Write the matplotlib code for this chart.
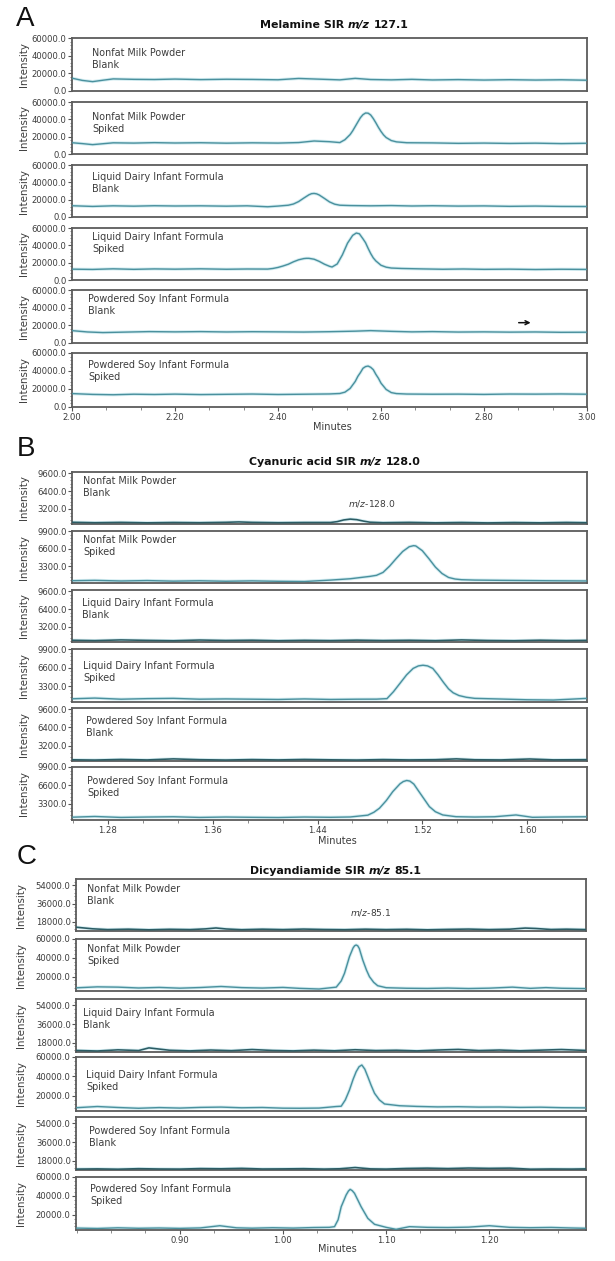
import matplotlib
matplotlib.use("Agg")
import matplotlib.pyplot as plt
from matplotlib.ticker import FixedLocator, MultipleLocator, AutoMinorLocator, FormatStrFormatter

plt.rcParams['font.family'] = ['DejaVu Sans']

# ------------------------------------------------------------------ data
SAMPLES = ["Nonfat Milk Powder", "Nonfat Milk Powder",
           "Liquid Dairy Infant Formula", "Liquid Dairy Infant Formula",
           "Powdered Soy Infant Formula", "Powdered Soy Infant Formula"]
CONDITIONS = ["Blank", "Spiked", "Blank", "Spiked", "Blank", "Spiked"]

A_TITLE = ("Melamine SIR", "m/z", "127.1")
B_TITLE = ("Cyanuric acid SIR", "m/z", "128.0")
C_TITLE = ("Dicyandiamide SIR", "m/z", "85.1")
B_NOTE = "$m/z$-128.0"
C_NOTE = "$m/z$-85.1"
X_LABEL = "Minutes"
Y_LABEL = "Intensity"

A_x_ticks = [2.00, 2.20, 2.40, 2.60, 2.80, 3.00]
B_x_ticks = [1.28, 1.36, 1.44, 1.52, 1.60]
C_x_ticks = [0.90, 1.00, 1.10, 1.20]
A_y_ticks = [0, 20000, 40000, 60000]
B_y_ticks_blank = [3200, 6400, 9600]
B_y_ticks_spiked = [3300, 6600, 9900]
C_y_ticks_blank = [18000, 36000, 54000]
C_y_ticks_spiked = [20000, 40000, 60000]

# Panel A – melamine m/z 127.1
A1_t = [2.00, 2.02, 2.04, 2.06, 2.08, 2.12, 2.16, 2.20, 2.25, 2.30, 2.35, 2.40, 2.44, 2.48, 2.52, 2.55, 2.58, 2.62, 2.66, 2.70, 2.75, 2.80, 2.85, 2.90, 2.95, 3.00]
A1_y = [14500, 12000, 10600, 12200, 13700, 13200, 13000, 13500, 12900, 13300, 13100, 12700, 14200, 13400, 12600, 14300, 13000, 12600, 13200, 12500, 12900, 12400, 12800, 12400, 12700, 12200]
A2_t = [2.00, 2.02, 2.04, 2.08, 2.12, 2.16, 2.20, 2.25, 2.30, 2.35, 2.40, 2.44, 2.47, 2.50, 2.52, 2.53, 2.54, 2.545, 2.55, 2.555, 2.56, 2.565, 2.57, 2.575, 2.58, 2.585, 2.59, 2.595, 2.60, 2.605, 2.61, 2.62, 2.63, 2.65, 2.70, 2.75, 2.80, 2.85, 2.90, 2.95, 3.00]
A2_y = [13000, 12000, 10800, 12900, 12600, 13100, 12700, 13000, 12500, 12900, 12600, 13200, 15000, 14200, 13200, 16500, 22400, 26700, 31800, 36900, 41900, 45400, 47300, 47100, 45000, 40900, 36000, 30700, 26000, 22000, 19000, 15500, 14000, 13000, 12800, 12300, 12600, 12200, 12500, 12000, 12400]
A3_t = [2.00, 2.04, 2.08, 2.12, 2.16, 2.20, 2.25, 2.30, 2.34, 2.38, 2.40, 2.42, 2.43, 2.44, 2.45, 2.46, 2.465, 2.47, 2.475, 2.48, 2.49, 2.50, 2.51, 2.52, 2.54, 2.58, 2.62, 2.66, 2.70, 2.75, 2.80, 2.85, 2.90, 2.95, 3.00]
A3_y = [13000, 12200, 12900, 12500, 13000, 12700, 12900, 12500, 12900, 11800, 12600, 13600, 15000, 17800, 21800, 25600, 26900, 27200, 26700, 25400, 21500, 17400, 14800, 13600, 13200, 12900, 13200, 12700, 13000, 12600, 12800, 12300, 12600, 12200, 12100]
A4_t = [2.00, 2.04, 2.08, 2.12, 2.16, 2.20, 2.25, 2.30, 2.34, 2.38, 2.39, 2.40, 2.41, 2.42, 2.43, 2.44, 2.45, 2.455, 2.46, 2.47, 2.48, 2.49, 2.50, 2.505, 2.515, 2.525, 2.535, 2.545, 2.552, 2.558, 2.565, 2.57, 2.575, 2.58, 2.585, 2.59, 2.60, 2.61, 2.62, 2.64, 2.68, 2.72, 2.76, 2.80, 2.85, 2.90, 2.95, 3.00]
A4_y = [12500, 12200, 12900, 12300, 12800, 12500, 12900, 12400, 12700, 12600, 13300, 14500, 16200, 18200, 21000, 23300, 24700, 25000, 25000, 24000, 21500, 18300, 15800, 15000, 18500, 29000, 42500, 51500, 54200, 53300, 47500, 43000, 36500, 30500, 25500, 22000, 17000, 14800, 13800, 13300, 12800, 12400, 12700, 12300, 12500, 12100, 12400, 12200]
A5_t = [2.00, 2.03, 2.06, 2.10, 2.15, 2.20, 2.25, 2.30, 2.35, 2.40, 2.45, 2.50, 2.55, 2.58, 2.62, 2.66, 2.70, 2.75, 2.80, 2.85, 2.90, 2.95, 3.00]
A5_y = [14000, 12500, 11800, 12300, 12900, 12600, 12900, 12500, 12800, 12600, 12400, 12800, 13400, 14000, 13200, 12600, 12900, 12400, 12600, 12300, 12500, 12100, 12200]
A6_t = [2.00, 2.04, 2.08, 2.12, 2.16, 2.20, 2.25, 2.30, 2.35, 2.40, 2.45, 2.50, 2.52, 2.53, 2.54, 2.55, 2.555, 2.56, 2.565, 2.57, 2.575, 2.58, 2.585, 2.59, 2.595, 2.60, 2.61, 2.62, 2.63, 2.65, 2.70, 2.75, 2.80, 2.85, 2.90, 2.95, 3.00]
A6_y = [14900, 14000, 13600, 14200, 13900, 14300, 13800, 14100, 14400, 13900, 14200, 14500, 15000, 16500, 20600, 28400, 34000, 38200, 43000, 44900, 45500, 44100, 41500, 36300, 31900, 26500, 19500, 16000, 14900, 14400, 14200, 14300, 14000, 14400, 14300, 14500, 14200]
A_arrow_t = [2.862, 2.896]
A_arrow_y = 23000

# Panel B – cyanuric acid m/z 128.0
B1_t = [1.25, 1.27, 1.29, 1.31, 1.33, 1.35, 1.37, 1.38, 1.39, 1.41, 1.43, 1.45, 1.455, 1.46, 1.465, 1.47, 1.475, 1.48, 1.49, 1.51, 1.53, 1.55, 1.57, 1.59, 1.61, 1.63, 1.646]
B1_y = [850, 760, 820, 740, 800, 760, 830, 900, 820, 760, 800, 800, 950, 1250, 1400, 1300, 1050, 850, 760, 820, 740, 800, 730, 790, 740, 810, 760]
B2_t = [1.25, 1.27, 1.29, 1.31, 1.33, 1.35, 1.37, 1.39, 1.41, 1.43, 1.45, 1.465, 1.48, 1.485, 1.49, 1.495, 1.50, 1.505, 1.51, 1.5133, 1.515, 1.52, 1.525, 1.53, 1.535, 1.54, 1.545, 1.55, 1.56, 1.58, 1.60, 1.62, 1.646]
B2_y = [520, 600, 480, 560, 450, 520, 430, 500, 420, 380, 650, 900, 1350, 1550, 2100, 3280, 4700, 6050, 6950, 7150, 7100, 6200, 4700, 3100, 1900, 1150, 850, 720, 650, 600, 560, 520, 480]
B3_t = [1.25, 1.27, 1.29, 1.31, 1.33, 1.35, 1.37, 1.39, 1.41, 1.43, 1.45, 1.47, 1.49, 1.51, 1.53, 1.55, 1.57, 1.59, 1.61, 1.63, 1.646]
B3_y = [850, 780, 900, 820, 760, 880, 800, 850, 760, 830, 780, 860, 790, 840, 770, 900, 800, 760, 850, 780, 820]
B4_t = [1.25, 1.27, 1.29, 1.31, 1.33, 1.35, 1.37, 1.39, 1.41, 1.43, 1.45, 1.47, 1.485, 1.493, 1.498, 1.503, 1.508, 1.513, 1.517, 1.5205, 1.524, 1.528, 1.532, 1.536, 1.540, 1.5435, 1.548, 1.5535, 1.56, 1.58, 1.60, 1.62, 1.646]
B4_y = [1000, 1150, 950, 1050, 1100, 950, 1000, 950, 900, 1000, 900, 950, 960, 1050, 2300, 3800, 5300, 6450, 6900, 7020, 6900, 6450, 5300, 4000, 2800, 2100, 1600, 1300, 1100, 980, 850, 800, 1100]
B5_t = [1.25, 1.27, 1.29, 1.31, 1.33, 1.35, 1.37, 1.39, 1.41, 1.43, 1.45, 1.47, 1.49, 1.51, 1.53, 1.546, 1.56, 1.58, 1.602, 1.62, 1.646]
B5_y = [750, 700, 800, 720, 900, 760, 700, 780, 720, 800, 740, 700, 780, 720, 760, 900, 750, 720, 880, 730, 760]
B6_t = [1.25, 1.27, 1.29, 1.31, 1.33, 1.35, 1.37, 1.39, 1.41, 1.43, 1.45, 1.465, 1.4784, 1.483, 1.4873, 1.4925, 1.4975, 1.503, 1.5055, 1.5081, 1.5105, 1.5135, 1.5165, 1.521, 1.5254, 1.530, 1.5356, 1.5457, 1.56, 1.575, 1.5915, 1.604, 1.62, 1.646]
B6_y = [900, 1050, 880, 950, 1000, 880, 950, 900, 860, 950, 900, 960, 1285, 1800, 2530, 3900, 5510, 6900, 7300, 7490, 7380, 6850, 5820, 4300, 2810, 1900, 1320, 1010, 950, 1000, 1320, 900, 950, 1000]

# Panel C – dicyandiamide m/z 85.1
C1_t = [0.80, 0.815, 0.83, 0.85, 0.87, 0.89, 0.91, 0.925, 0.935, 0.945, 0.96, 0.98, 1.00, 1.02, 1.04, 1.06, 1.08, 1.10, 1.12, 1.14, 1.16, 1.18, 1.20, 1.22, 1.235, 1.245, 1.26, 1.275, 1.294]
C1_y = [12500, 11000, 10200, 10600, 10000, 10500, 10200, 10900, 11800, 10800, 10100, 10600, 10200, 10700, 10300, 10100, 10600, 10200, 10500, 10000, 10400, 10700, 10200, 10600, 11700, 11300, 10300, 10600, 10200]
C2_t = [0.80, 0.82, 0.84, 0.86, 0.88, 0.90, 0.92, 0.94, 0.96, 0.98, 1.00, 1.016, 1.035, 1.0517, 1.0565, 1.0597, 1.0645, 1.0680, 1.0695, 1.0710, 1.0725, 1.0740, 1.0774, 1.0810, 1.0839, 1.0880, 1.0919, 1.1001, 1.12, 1.14, 1.16, 1.18, 1.20, 1.2226, 1.24, 1.255, 1.27, 1.294]
C2_y = [8200, 9200, 8900, 8000, 8600, 7800, 8500, 9600, 8400, 7900, 8600, 7600, 6900, 8900, 15500, 23600, 41200, 50500, 52800, 53650, 52800, 50000, 37700, 27000, 20000, 14000, 10400, 8300, 7700, 7500, 7900, 7400, 7800, 8900, 7600, 8400, 7700, 7300]
C3_t = [0.80, 0.82, 0.84, 0.86, 0.87, 0.89, 0.91, 0.93, 0.95, 0.97, 0.99, 1.01, 1.03, 1.05, 1.07, 1.09, 1.11, 1.13, 1.15, 1.17, 1.19, 1.21, 1.23, 1.25, 1.27, 1.294]
C3_y = [10300, 9800, 10900, 10200, 12800, 10500, 9900, 10700, 10100, 11200, 10300, 9900, 10600, 10000, 11000, 10200, 10500, 9900, 10700, 11300, 10200, 10700, 10000, 10600, 11200, 10300]
C4_t = [0.80, 0.82, 0.84, 0.86, 0.88, 0.90, 0.92, 0.94, 0.96, 0.98, 1.00, 1.016, 1.035, 1.0517, 1.0565, 1.0605, 1.0645, 1.068, 1.0710, 1.0738, 1.0765, 1.0794, 1.0823, 1.0855, 1.0888, 1.0935, 1.0985, 1.113, 1.13, 1.15, 1.17, 1.19, 1.21, 1.23, 1.25, 1.27, 1.294]
C4_y = [8000, 9200, 8200, 7400, 8100, 7600, 8300, 8600, 7900, 8200, 7500, 7400, 7600, 9200, 9500, 16000, 26100, 37000, 44900, 50000, 51800, 47500, 39800, 31000, 22800, 16000, 11800, 10000, 9300, 8800, 9000, 8600, 8700, 8300, 8500, 8000, 7800]
C5_t = [0.80, 0.82, 0.84, 0.86, 0.88, 0.90, 0.92, 0.94, 0.96, 0.98, 1.00, 1.02, 1.04, 1.055, 1.07, 1.085, 1.10, 1.12, 1.14, 1.16, 1.18, 1.20, 1.22, 1.24, 1.26, 1.28, 1.294]
C5_y = [9700, 9900, 9600, 10100, 9800, 9700, 10200, 10000, 10400, 9800, 9900, 10100, 9700, 10000, 11200, 9900, 9700, 10300, 10600, 10200, 10700, 10400, 10600, 9600, 9800, 9700, 9900]
C6_t = [0.80, 0.82, 0.84, 0.86, 0.88, 0.90, 0.92, 0.9387, 0.955, 0.97, 0.99, 1.01, 1.03, 1.045, 1.05, 1.0535, 1.0565, 1.0613, 1.0635, 1.0652, 1.0672, 1.0694, 1.0725, 1.0758, 1.0823, 1.0888, 1.1001, 1.1097, 1.1226, 1.14, 1.16, 1.18, 1.2001, 1.22, 1.24, 1.26, 1.28, 1.294]
C6_y = [6200, 5800, 6500, 6000, 6300, 5900, 6400, 8700, 6500, 6100, 6600, 6200, 6800, 7000, 7700, 15000, 28700, 41100, 45200, 47000, 45600, 42800, 36000, 28700, 16500, 10200, 7000, 4900, 7700, 7000, 6800, 7200, 8700, 7000, 6600, 6900, 6300, 6000]

# ------------------------------------------------------------------ layout (pixels)
W, H = 615, 1261
fig = plt.figure(figsize=(W / 100, H / 100), dpi=100)
fig.patch.set_facecolor('white')

LINE = '#4a909d'
LINE_DARK = '#2c5c64'
HALO = '#d2ecf1'
SPINE = '#5c5c5c'
TXT = '#3c3c3c'

panels = [
    dict(letter='A', letter_xy=(16, 19), title=A_TITLE, title_xy=(334, 25),
         left=72, right=587,
         rows=[(38, 91), (102, 154), (165, 217), (228, 280), (290, 343), (353, 407)],
         xlim=(2.0, 3.0), xticks=A_x_ticks, xstep=0.2,
         traces=[(A1_t, A1_y), (A2_t, A2_y), (A3_t, A3_y), (A4_t, A4_y), (A5_t, A5_y), (A6_t, A6_y)],
         ylims=[(0, 60000)] * 6, yticks=[A_y_ticks] * 6,
         lab=[(92, 15), (92, 14), (92, 11), (92, 8), (88, 9), (88, 11)],
         ylab_x=24, xlab_xy=(332, 427), dark=[False] * 6),
    dict(letter='B', letter_xy=(17, 449), title=B_TITLE, title_xy=(335, 462),
         left=72, right=587,
         rows=[(472, 524), (531, 583), (590, 642), (649, 702), (708, 761), (767, 820)],
         xlim=(1.2526, 1.6457), xticks=B_x_ticks, xstep=0.08,
         traces=[(B1_t, B1_y), (B2_t, B2_y), (B3_t, B3_y), (B4_t, B4_y), (B5_t, B5_y), (B6_t, B6_y)],
         ylims=[(530, 9780), (100, 9920), (530, 9780), (450, 9920), (530, 9780), (420, 9900)],
         yticks=[B_y_ticks_blank, B_y_ticks_spiked] * 3,
         lab=[(83, 8), (83, 8), (82, 13), (83, 16.5), (86, 13), (87, 13)],
         ylab_x=24, xlab_xy=(337, 841), dark=[True, False] * 3),
    dict(letter='C', letter_xy=(17, 857), title=C_TITLE, title_xy=(336, 871),
         left=76, right=586,
         rows=[(879, 931), (939, 991), (999, 1052), (1057, 1111), (1117, 1170), (1177, 1230)],
         xlim=(0.7993, 1.2939), xticks=C_x_ticks, xstep=0.1,
         traces=[(C1_t, C1_y), (C2_t, C2_y), (C3_t, C3_y), (C4_t, C4_y), (C5_t, C5_y), (C6_t, C6_y)],
         ylims=[(8800, 60300), (4800, 60000), (8800, 60300), (4600, 60000), (8800, 60300), (4200, 60000)],
         yticks=[C_y_ticks_blank, C_y_ticks_spiked] * 3,
         lab=[(87, 9), (87, 9), (83, 13.5), (86, 17), (89, 13), (90, 11)],
         ylab_x=21, xlab_xy=(337, 1249), dark=[True, False] * 3),
]


def fx(px):
    return px / W


def fy(py):
    return 1 - py / H


axes_store = {}
for p in panels:
    L, R = p['left'], p['right']
    for i, (top, bot) in enumerate(p['rows']):
        ax = fig.add_axes([fx(L), fy(bot), (R - L) / W, (bot - top) / H])
        t, y = p['traces'][i]
        col = LINE_DARK if p['dark'][i] else LINE
        ax.plot(t, y, color=HALO, lw=2.3, solid_joinstyle='round', zorder=2)
        ax.plot(t, y, color=col, lw=1.15 if p['dark'][i] else 1.0,
                solid_joinstyle='round', zorder=3)
        ax.set_xlim(*p['xlim'])
        ax.set_ylim(*p['ylims'][i])
        for s in ax.spines.values():
            s.set_color(SPINE)
            s.set_linewidth(1.3)
        ax.yaxis.set_major_locator(FixedLocator(p['yticks'][i]))
        ax.yaxis.set_minor_locator(AutoMinorLocator(5))
        ax.yaxis.set_major_formatter(FormatStrFormatter('%.1f'))
        ax.tick_params(axis='y', which='major', direction='out', length=3, width=0.8,
                       color='#555555', labelsize=6.1, labelcolor=TXT, pad=0.8)
        ax.tick_params(axis='y', which='minor', direction='out', length=1.5, width=0.6,
                       color='#777777')
        ax.xaxis.set_major_locator(FixedLocator(p['xticks']))
        ax.xaxis.set_minor_locator(MultipleLocator(p['xstep'] / 3))
        ax.xaxis.set_major_formatter(FormatStrFormatter('%.2f'))
        if i == len(p['rows']) - 1:
            ax.tick_params(axis='x', which='major', direction='out', length=3, width=0.8,
                           color='#555555', labelsize=6.1, labelcolor=TXT, pad=1.5)
            ax.tick_params(axis='x', which='minor', direction='out', length=2, width=0.6,
                           color='#777777')
        else:
            ax.tick_params(axis='x', which='both', bottom=False, labelbottom=False)
        lx, ly = p['lab'][i]
        ax.text((lx - L) / (R - L), 1 - (ly - 4.5) / (bot - top),
                SAMPLES[i] + "\n" + CONDITIONS[i], transform=ax.transAxes,
                ha='left', va='top', fontsize=6.9, color=TXT, linespacing=1.25)
        fig.text(fx(p['ylab_x']), fy((top + bot) / 2), Y_LABEL, rotation=90,
                 ha='center', va='center', fontsize=7.4, color=TXT)
        axes_store[(p['letter'], i)] = ax
    fig.text(fx(p['xlab_xy'][0]), fy(p['xlab_xy'][1]), X_LABEL, ha='center', va='center',
             fontsize=7.0, color=TXT)
    fig.text(fx(p['letter_xy'][0]), fy(p['letter_xy'][1]), p['letter'], ha='left', va='center',
             fontsize=20, family='Liberation Sans', color='#111111')

# notes and arrow
axA5 = axes_store[('A', 4)]
axA5.annotate('', xy=(A_arrow_t[1], A_arrow_y), xytext=(A_arrow_t[0], A_arrow_y),
              arrowprops=dict(arrowstyle='->', color='#111111', lw=1.1, mutation_scale=7))
axB1 = axes_store[('B', 0)]
axB1.text(1.463, 0.40, B_NOTE, transform=axB1.get_xaxis_transform(), ha='left', va='center',
          fontsize=6.6, color=TXT)
axC1 = axes_store[('C', 0)]
axC1.text(1.0646, 0.36, C_NOTE, transform=axC1.get_xaxis_transform(), ha='left', va='center',
          fontsize=6.6, color=TXT)

# titles (bold + bold italic m/z)
fig.canvas.draw()
renderer = fig.canvas.get_renderer()
for p in panels:
    pieces = []
    for k, s in enumerate(p['title']):
        pieces.append(fig.text(0, 0, s, fontsize=7.9, weight='bold',
                               style='italic' if k == 1 else 'normal',
                               ha='left', va='center', color='#111111'))
    widths = [t.get_window_extent(renderer).width for t in pieces]
    gap = 3.8
    total = sum(widths) + gap * (len(pieces) - 1)
    x = p['title_xy'][0] - total / 2
    for t, w in zip(pieces, widths):
        t.set_position((fx(x), fy(p['title_xy'][1])))
        x += w + gap

fig.savefig('out.png', dpi=100)
